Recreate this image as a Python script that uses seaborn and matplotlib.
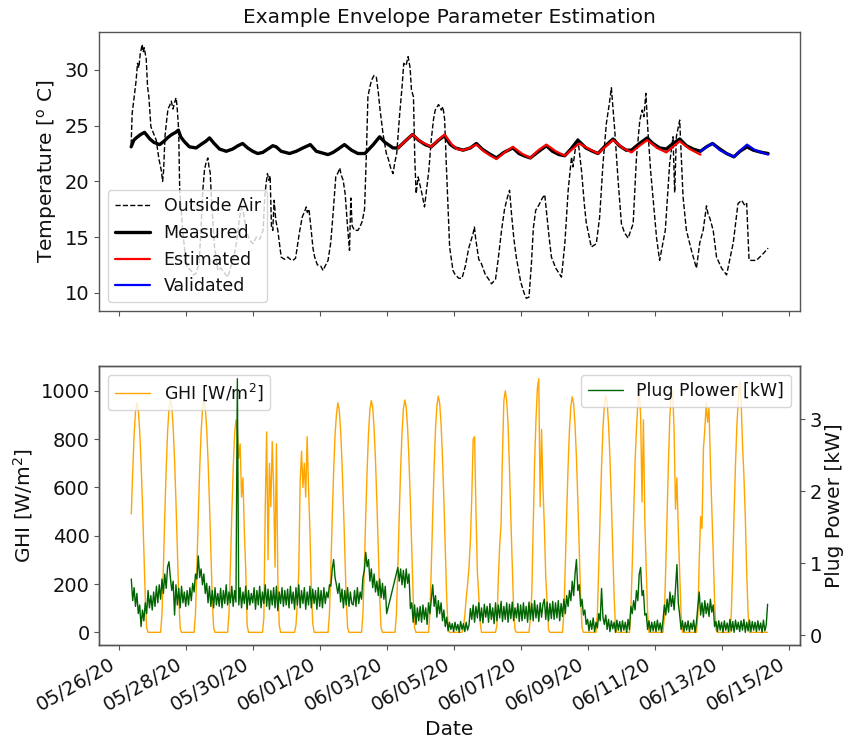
import matplotlib
matplotlib.use("Agg")
import numpy as np
import pandas as pd
import matplotlib.pyplot as plt
import matplotlib.dates as mdates
import seaborn as sns

# ---------------- data ----------------
START = "2020-05-26"

# Outside air temperature: days since 05/26/20 00:00 and degC
oat_day = [0.37, 0.40, 0.47, 0.52, 0.56, 0.60, 0.64, 0.70, 0.73, 0.76, 0.82, 0.86, 0.90, 0.96,
           1.04, 1.12, 1.20, 1.27, 1.31, 1.34, 1.38, 1.42, 1.47, 1.52, 1.57, 1.62, 1.66, 1.71,
           1.74, 1.79, 1.82, 1.91, 2.01, 2.08, 2.16, 2.23, 2.30, 2.40, 2.46, 2.51, 2.56, 2.60,
           2.66, 2.70, 2.73, 2.77, 2.86, 2.96, 3.05, 3.15, 3.26, 3.35, 3.45, 3.51, 3.61, 3.66,
           3.71, 3.76, 3.81, 3.91, 4.01, 4.11, 4.21, 4.31, 4.36, 4.40, 4.44, 4.48, 4.52, 4.56,
           4.60, 4.64, 4.69, 4.75, 4.85, 4.95, 5.05, 5.12, 5.20, 5.28, 5.40, 5.48, 5.55, 5.60,
           5.63, 5.68, 5.74, 5.80, 5.85, 5.93, 6.03, 6.10, 6.18, 6.25, 6.33, 6.40, 6.48, 6.55,
           6.60, 6.64, 6.70, 6.76, 6.83, 6.89, 6.93, 6.97, 7.04, 7.14, 7.20, 7.27, 7.34, 7.40,
           7.44, 7.50, 7.55, 7.62, 7.69, 7.75, 7.80, 7.89, 7.99, 8.05, 8.12, 8.19, 8.25, 8.30,
           8.39, 8.46, 8.51, 8.58, 8.64, 8.70, 8.74, 8.80, 8.84, 8.88, 8.94, 9.00, 9.06, 9.13,
           9.20, 9.26, 9.33, 9.40, 9.45, 9.55, 9.63, 9.68, 9.73, 9.78, 9.88, 9.98, 10.03, 10.15,
           10.25, 10.35, 10.45, 10.58, 10.62, 10.66, 10.75, 10.83, 10.95, 11.05, 11.13, 11.25,
           11.33, 11.43, 11.52, 11.60, 11.67, 11.73, 11.80, 11.87, 12.00, 12.10, 12.17, 12.25,
           12.32, 12.38, 12.45, 12.55, 12.65, 12.72, 12.78, 12.85, 12.92, 13.05, 13.22, 13.32,
           13.42, 13.52, 13.56, 13.67, 13.71, 13.82, 13.91, 13.96, 14.11, 14.26, 14.36, 14.46,
           14.56, 14.65, 14.71, 14.76, 14.81, 14.91, 15.01, 15.10, 15.21, 15.36, 15.46, 15.56,
           15.63, 15.68, 15.74, 15.80, 15.88, 15.95, 16.06, 16.15, 16.25, 16.32, 16.45, 16.55,
           16.60, 16.65, 16.75, 16.85, 16.95, 17.10, 17.25, 17.35, 17.45, 17.55, 17.60, 17.65,
           17.75, 17.85, 18.00, 18.15, 18.28, 18.35, 18.49, 18.60, 18.70, 18.75, 18.82, 18.84,
           19.04, 19.24, 19.39]
oat_val = [23.3, 26.1, 27.8, 29.1, 30.6, 30.2, 31.4, 32.3, 31.6, 32.0, 31.0, 28.5, 27.6, 24.9,
           24.3, 23.7, 22.0, 21.0, 20.0, 21.0, 24.0, 25.2, 26.5, 26.8, 27.2, 26.5, 27.0, 27.5,
           26.8, 24.6, 19.2, 15.6, 12.6, 12.2, 12.0, 11.6, 11.7, 12.6, 16.0, 19.2, 21.0, 21.6,
           22.1, 21.2, 20.8, 18.3, 14.1, 12.0, 12.2, 11.8, 11.4, 12.4, 13.4, 14.4, 16.8, 17.6,
           17.4, 16.5, 15.6, 14.7, 14.4, 15.0, 14.8, 15.6, 18.6, 19.8, 20.7, 20.1, 20.5, 16.0,
           15.6, 18.3, 16.5, 15.6, 13.2, 13.0, 13.2, 13.0, 12.9, 13.1, 15.5, 16.8, 17.3, 17.7,
           17.2, 17.5, 15.8, 14.0, 13.2, 12.5, 12.4, 12.0, 12.5, 12.9, 14.5, 17.1, 20.4, 20.8,
           21.2, 20.6, 20.1, 18.9, 16.0, 13.8, 18.5, 16.0, 15.6, 15.6, 15.9, 16.4, 17.5, 23.0,
           27.6, 28.5, 29.1, 29.5, 29.4, 28.0, 26.5, 24.3, 22.5, 22.0, 21.2, 20.7, 21.8, 22.5,
           26.1, 28.5, 30.6, 30.4, 31.2, 30.2, 28.2, 27.6, 22.0, 18.9, 20.4, 19.6, 18.8, 17.7,
           19.5, 21.0, 23.7, 25.6, 26.4, 26.9, 26.4, 26.7, 25.6, 21.6, 14.1, 12.0, 11.7, 11.3,
           11.3, 12.4, 14.0, 15.3, 15.9, 14.8, 13.0, 12.6, 11.6, 11.2, 10.8, 11.2,
           13.0, 15.6, 17.5, 18.5, 19.2, 17.0, 14.8, 13.2, 11.0, 10.0, 9.5, 9.6,
           12.5, 15.8, 17.4, 17.9, 18.5, 18.8, 17.0, 15.0, 13.2, 12.2, 11.4, 14.4,
           19.2, 22.2, 21.3, 23.7, 23.8, 20.9, 17.7, 16.3, 14.1, 14.4, 16.8, 21.6,
           25.2, 27.0, 28.4, 26.5, 24.6, 20.1, 16.2, 15.4, 14.9, 16.2, 22.2, 25.5,
           26.4, 25.8, 27.9, 24.6, 21.0, 18.6, 14.9, 12.9, 14.5, 15.6, 21.6, 24.0,
           19.0, 24.0, 25.5, 18.6, 15.6, 13.8, 12.2, 14.5, 15.6, 17.8, 17.0, 16.7,
           15.6, 13.2, 12.2, 11.6, 13.5, 14.5, 18.0, 18.3, 17.8, 18.0, 13.0, 12.9,
           12.9, 13.5, 14.0]

# Measured indoor temperature
meas_day = [0.37, 0.45, 0.52, 0.65, 0.77, 0.85, 0.93, 1.05, 1.22, 1.35, 1.45, 1.58, 1.70, 1.78,
            1.85, 1.95, 2.11, 2.31, 2.45, 2.60, 2.71, 2.85, 3.01, 3.21, 3.40, 3.56, 3.70, 3.85,
            4.00, 4.15, 4.30, 4.45, 4.60, 4.70, 4.85, 5.10, 5.30, 5.50, 5.72, 5.90, 6.25, 6.40,
            6.55, 6.74, 6.95, 7.14, 7.35, 7.60, 7.79, 7.95, 8.19, 8.34, 8.55, 8.77, 8.95, 9.15,
            9.33, 9.55, 9.73, 9.90, 10.05, 10.28, 10.50, 10.68, 10.85, 11.05, 11.28, 11.50,
            11.77, 11.95, 12.10, 12.29, 12.50, 12.77, 12.95, 13.15, 13.32, 13.50, 13.71, 13.95,
            14.15, 14.31, 14.50, 14.76, 14.95, 15.15, 15.31, 15.55, 15.78, 15.95, 16.15, 16.35,
            16.55, 16.75, 16.95, 17.15, 17.37, 17.55, 17.73, 17.95, 18.15, 18.37, 18.55, 18.76,
            18.95, 19.20, 19.39]
meas_val = [23.1, 23.7, 23.9, 24.2, 24.4, 24.1, 23.8, 23.5, 23.3, 23.6, 23.9, 24.2, 24.4, 24.6,
            24.0, 23.6, 23.1, 23.0, 23.3, 23.6, 23.9, 23.4, 22.9, 22.7, 22.9, 23.2, 23.4, 23.0,
            22.7, 22.5, 22.6, 22.9, 23.2, 23.1, 22.7, 22.5, 22.7, 23.0, 23.3, 22.7, 22.4, 22.6,
            22.9, 23.3, 22.8, 22.5, 22.5, 23.3, 24.0, 23.5, 23.0, 23.0, 23.6, 24.2, 23.7, 23.3,
            23.1, 23.7, 24.1, 23.3, 23.0, 22.8, 23.0, 23.4, 22.9, 22.5, 22.1, 22.6,
            23.0, 22.5, 22.3, 22.1, 22.6, 23.2, 22.7, 22.4, 22.3, 22.9, 23.7, 23.0,
            22.7, 22.5, 23.1, 23.8, 23.2, 22.8, 22.8, 23.4, 23.9, 23.4, 23.0, 22.9,
            23.4, 23.8, 23.2, 22.9, 22.7, 23.1, 23.4, 22.9, 22.5, 22.2, 22.7, 23.1,
            22.8, 22.6, 22.5]

# Estimated (training window)
est_day = [8.34, 8.55, 8.77, 9.00, 9.20, 9.33, 9.53, 9.73, 9.95, 10.10, 10.28, 10.48, 10.68,
           10.90, 11.10, 11.28, 11.52, 11.77, 12.03, 12.29, 12.53, 12.77, 13.05, 13.32, 13.55,
           13.75, 14.05, 14.31, 14.53, 14.76, 15.05, 15.31, 15.55, 15.78, 16.07, 16.35, 16.55,
           16.75, 17.05, 17.37]
est_val = [23.0, 23.6, 24.2, 23.6, 23.3, 23.1, 23.7, 24.2, 23.3, 22.9, 22.8, 23.0, 23.3,
           22.7, 22.3, 22.0, 22.6, 23.1, 22.5, 22.1, 22.8, 23.3, 22.7, 22.3, 22.9,
           23.4, 22.9, 22.5, 23.1, 23.7, 23.0, 22.6, 23.2, 23.7, 23.0, 22.6, 23.1,
           23.6, 22.9, 22.4]

# Validated (test window)
val_day = [17.37, 17.55, 17.73, 17.95, 18.15, 18.37, 18.57, 18.76, 19.00, 19.20, 19.39]
val_val = [22.7, 23.1, 23.4, 22.8, 22.5, 22.2, 22.8, 23.3, 22.8, 22.6, 22.4]

# Hourly GHI [W/m2] and plug power [kW], 05/26/20 09:00 ... 06/14/20 09:00
HOURLY_START = "2020-05-26 09:00"
ghi = [
    490, 665, 817, 912, 950, 922, 836, 703, 532, 333, 143, 19, 0, 0, 0,                          # 05/26 (from 09h)
    0, 0, 0, 0, 0, 0, 0, 77, 270, 483, 676, 830, 926, 965, 936, 849, 714, 540, 338, 145, 19, 0, 0, 0,   # 05/27
    0, 0, 0, 0, 0, 0, 0, 77, 269, 480, 672, 826, 922, 960, 931, 845, 710, 538, 336, 144, 19, 0, 0, 0,   # 05/28
    0, 0, 0, 0, 0, 0, 0, 77, 270, 483, 676, 820, 880, 830, 720, 780, 560, 640, 420, 260, 30, 0, 0, 0,   # 05/29
    0, 0, 0, 0, 0, 0, 0, 0, 60, 520, 830, 300, 700, 520, 790, 600, 270, 780, 220, 30, 0, 0, 0, 0,       # 05/30
    0, 0, 0, 0, 0, 0, 0, 30, 120, 250, 620, 750, 600, 700, 560, 810, 600, 420, 180, 40, 0, 0, 0, 0,     # 05/31
    0, 0, 0, 0, 0, 0, 0, 76, 266, 475, 665, 817, 900, 950, 922, 836, 703, 532, 333, 143, 19, 0, 0, 0,   # 06/01
    0, 0, 0, 0, 0, 0, 0, 77, 269, 480, 672, 826, 922, 960, 931, 845, 710, 538, 336, 144, 19, 0, 0, 0,   # 06/02
    0, 0, 0, 0, 0, 0, 0, 77, 269, 481, 673, 827, 924, 962, 933, 847, 712, 539, 337, 144, 19, 0, 0, 0,   # 06/03
    0, 0, 0, 0, 0, 0, 0, 78, 274, 489, 685, 841, 939, 978, 949, 861, 724, 548, 342, 147, 20, 0, 0, 0,   # 06/04
    0, 0, 0, 0, 0, 0, 0, 20, 70, 140, 200, 270, 380, 560, 800, 810, 500, 250, 150, 40, 0, 0, 0, 0,      # 06/05
    0, 0, 0, 0, 0, 0, 0, 30, 220, 360, 450, 740, 960, 1000, 960, 860, 680, 470, 280, 90, 10, 0, 0, 0,   # 06/06
    0, 0, 0, 0, 0, 0, 0, 60, 160, 420, 700, 880, 1010, 1050, 520, 840, 600, 440, 230, 120, 10, 0, 0, 0, # 06/07
    0, 0, 0, 0, 0, 0, 0, 78, 273, 488, 683, 839, 936, 975, 946, 858, 722, 546, 341, 146, 20, 0, 0, 0,   # 06/08
    0, 0, 0, 0, 0, 0, 0, 78, 274, 490, 686, 843, 941, 980, 951, 862, 725, 549, 343, 147, 20, 0, 0, 0,   # 06/09
    0, 0, 0, 0, 0, 0, 0, 90, 280, 490, 700, 840, 950, 1000, 900, 540, 880, 470, 260, 80, 0, 0, 0, 0,    # 06/10
    0, 0, 0, 0, 0, 0, 0, 60, 270, 500, 720, 900, 990, 1000, 830, 510, 640, 420, 240, 70, 0, 0, 0, 0,    # 06/11
    0, 0, 0, 0, 0, 0, 0, 70, 300, 480, 430, 760, 840, 950, 870, 930, 700, 520, 330, 130, 10, 0, 0, 0,   # 06/12
    0, 0, 0, 0, 0, 0, 0, 80, 280, 500, 700, 860, 960, 1040, 960, 780, 650, 480, 250, 80, 0, 0, 0, 0,    # 06/13
    0, 0, 0, 0, 0, 0, 0, 0, 0, 0,                                                                # 06/14 (to 09h)
]
nan = float("nan")
plug = [
    0.78, 0.48, 0.66, 0.40, 0.58, 0.30, 0.42, 0.12, 0.35, 0.20, 0.45, 0.30, 0.62, 0.38, 0.55,    # 05/26 (from 09h)
    0.35, 0.60, 0.40, 0.68, 0.45, 0.70, 0.50, 0.78, 0.58, 0.85, 0.65, 0.95, 1.02, 0.80, 0.62, 0.75, 0.28, 0.70, 0.42, 0.65, 0.38, 0.68, 0.45, 0.60,
    0.40, 0.62, 0.42, 0.66, 0.48, 0.72, 0.60, 0.85, 0.78, 1.10, 0.80, 0.92, 0.70, 0.85, 0.58, 0.72, 0.45, 0.68, 0.40, 0.62, 0.38, 0.66, 0.42, 0.58,
    0.40, 0.65, 0.38, 0.62, 0.44, 0.70, 0.42, 0.60, 0.45, 0.68, 0.40, 0.62, 0.46, 3.56, 0.42, 0.66, 0.38, 0.60, 0.44, 0.68, 0.36, 0.62, 0.42, 0.58,
    0.45, 0.66, 0.36, 0.62, 0.42, 0.68, 0.38, 0.60, 0.44, 0.70, 0.40, 0.64, 0.36, 0.62, 0.42, 0.66, 0.38, 0.68, 0.34, 0.60, 0.44, 0.66, 0.40, 0.62,
    0.42, 0.64, 0.38, 0.68, 0.44, 0.60, 0.36, 0.66, 0.42, 0.70, 0.38, 0.62, 0.44, 0.66, 0.36, 0.60, 0.42, 0.68, 0.38, 0.64, 0.44, 0.62, 0.36, 0.66,
    0.40, 0.62, 0.38, 0.66, 0.44, 0.60, 0.52, 0.70, 0.68, 0.92, 1.05, 0.80, 0.70, 0.58, 0.72, 0.46, 0.64, 0.38, 0.62, 0.42, 0.66, 0.40, 0.60, 0.44,
    0.42, 0.62, 0.40, 0.66, 0.44, 0.60, 0.50, 0.80, 0.90, 1.15, 0.95, 1.05, 0.75, 0.92, 0.66, 0.85, 0.60, 0.75, 0.55, 0.78, 0.52, 0.72, 0.50, 0.68,
    0.30, nan, nan, nan, nan, nan, nan, nan, 0.94, 0.75, 0.92, 0.70, 0.90, 0.66, 0.92, 0.72, 0.85, 0.37, 0.45, 0.18, 0.42, 0.15, 0.38, 0.20,
    0.40, 0.18, 0.42, 0.22, 0.38, 0.15, 0.45, 0.30, 0.50, 0.70, 0.40, 0.55, 0.25, 0.48, 0.30, 0.45, 0.20, 0.35, 0.12, 0.25, 0.06, 0.18, 0.08, 0.16,
    0.05, 0.18, 0.07, 0.15, 0.04, 0.19, 0.08, 0.16, 0.05, 0.18, 0.07, 0.14, 0.37, 0.22, 0.42, 0.18, 0.40, 0.24, 0.45, 0.20, 0.38, 0.17, 0.43, 0.25,
    0.40, 0.18, 0.44, 0.22, 0.38, 0.16, 0.45, 0.20, 0.42, 0.24, 0.47, 0.19, 0.40, 0.22, 0.45, 0.18, 0.43, 0.23, 0.46, 0.20, 0.38, 0.24, 0.44, 0.19,
    0.42, 0.20, 0.45, 0.23, 0.40, 0.18, 0.46, 0.22, 0.44, 0.20, 0.48, 0.24, 0.42, 0.19, 0.45, 0.25, 0.43, 0.50, 0.22, 0.46, 0.20, 0.44, 0.23, 0.47,
    0.22, 0.45, 0.24, 0.48, 0.20, 0.44, 0.26, 0.50, 0.30, 0.55, 0.40, 0.62, 0.48, 0.75, 0.55, 0.85, 1.05, 0.62, 0.70, 0.40, 0.50, 0.28, 0.35, 0.15,
    0.22, 0.06, 0.20, 0.08, 0.24, 0.05, 0.18, 0.10, 0.30, 0.20, 0.65, 0.25, 0.15, 0.28, 0.08, 0.22, 0.05, 0.20, 0.09, 0.18, 0.04, 0.21, 0.07, 0.19,
    0.05, 0.20, 0.07, 0.18, 0.04, 0.22, 0.08, 0.40, 0.30, 0.48, 0.35, 0.62, 0.48, 0.85, 0.94, 0.55, 0.62, 0.28, 0.30, 0.08, 0.20, 0.05, 0.18, 0.06,
    0.19, 0.05, 0.21, 0.07, 0.17, 0.04, 0.20, 0.42, 0.28, 0.50, 0.32, 0.60, 0.40, 0.55, 0.35, 0.65, 0.98, 0.45, 0.28, 0.08, 0.20, 0.05, 0.18, 0.07,
    0.20, 0.05, 0.17, 0.08, 0.21, 0.04, 0.18, 0.40, 0.60, 0.28, 0.45, 0.25, 0.48, 0.30, 0.44, 0.26, 0.50, 0.32, 0.42, 0.12, 0.19, 0.05, 0.20, 0.07,
    0.18, 0.04, 0.20, 0.07, 0.17, 0.05, 0.22, 0.06, 0.19, 0.04, 0.21, 0.08, 0.18, 0.05, 0.20, 0.07, 0.22, 0.04, 0.18, 0.06, 0.21, 0.05, 0.19, 0.07,
    0.18, 0.05, 0.20, 0.07, 0.17, 0.04, 0.21, 0.06, 0.14, 0.43,                                    # 06/14 (to 09h)
]
date_ticks = pd.date_range("2020-05-26", "2020-06-15", freq="2D")

# ---------------- style ----------------
sns.set_theme(style="ticks")
plt.rcParams.update({
    "font.family": ["DejaVu Sans"],
    "axes.edgecolor": "#555555",
    "axes.linewidth": 1.0,
    "xtick.color": "#555555",
    "ytick.color": "#555555",
    "xtick.labelcolor": "#111111",
    "ytick.labelcolor": "#111111",
    "xtick.major.size": 3.5,
    "ytick.major.size": 3.5,
    "xtick.major.width": 0.8,
    "ytick.major.width": 0.8,
    "xtick.major.pad": 3.5,
    "ytick.major.pad": 3.5,
    "axes.labelcolor": "#111111",
    "text.color": "#111111",
    "font.size": 14,
})

t0 = pd.Timestamp(START)
to_time = lambda days: t0 + pd.to_timedelta(np.asarray(days, dtype=float), unit="D")

fig = plt.figure(figsize=(8.45, 7.42), dpi=100)
ax1 = fig.add_axes([0.1175, 0.5809, 0.8292, 0.3764])
ax2 = fig.add_axes([0.1175, 0.1307, 0.8292, 0.3760], sharex=ax1)

LEG_FS = 12.5

# ---- top panel ----
sns.lineplot(x=to_time(oat_day), y=oat_val, ax=ax1, color="black", linewidth=1.0,
             linestyle="--", label="Outside Air", estimator=None, sort=False)
sns.lineplot(x=to_time(meas_day), y=meas_val, ax=ax1, color="black", linewidth=2.4,
             label="Measured", estimator=None, sort=False)
sns.lineplot(x=to_time(est_day), y=est_val, ax=ax1, color="red", linewidth=1.6,
             label="Estimated", estimator=None, sort=False)
sns.lineplot(x=to_time(val_day), y=val_val, ax=ax1, color="blue", linewidth=1.6,
             label="Validated", estimator=None, sort=False)
ax1.set_title("Example Envelope Parameter Estimation", fontsize=14.5)
ax1.set_ylabel(r"Temperature [$^\mathrm{o}$ C]", fontsize=14.5)
ax1.set_xlabel("")
ax1.tick_params(axis="x", labelbottom=False)
ax1.tick_params(axis="both", labelsize=14)
ax1.legend(loc="lower left", fontsize=LEG_FS)

# ---- bottom panel ----
t_hourly = pd.date_range(HOURLY_START, periods=len(ghi), freq="h")
sns.lineplot(x=t_hourly, y=ghi, ax=ax2, color="orange", linewidth=1.0,
             label="GHI [W/m$^2$]", estimator=None, sort=False)
ax2.set_ylabel("GHI [W/m$^2$]", fontsize=14.5)
ax2.set_xlabel("Date", fontsize=14.5)
ax2.legend(loc="upper left", fontsize=LEG_FS)

ax3 = ax2.twinx()
plug_df = pd.DataFrame({"t": pd.date_range(HOURLY_START, periods=len(plug), freq="h"),
                        "p": plug}).dropna()
sns.lineplot(data=plug_df, x="t", y="p", ax=ax3, color="darkgreen", linewidth=1.0,
             label="Plug Plower [kW]", estimator=None, sort=False)
ax3.set_ylabel("Plug Power [kW]", fontsize=14.5, labelpad=2)
ax3.legend(loc="upper right", fontsize=LEG_FS)
ax3.tick_params(axis="y", labelsize=14)

ax2.set_xticks(date_ticks)
ax2.xaxis.set_major_formatter(mdates.DateFormatter("%m/%d/%y"))
ax2.tick_params(axis="both", labelsize=14)
plt.setp(ax2.get_xticklabels(), rotation=30, ha="right")

fig.savefig("out.png", dpi=100, facecolor="white")
